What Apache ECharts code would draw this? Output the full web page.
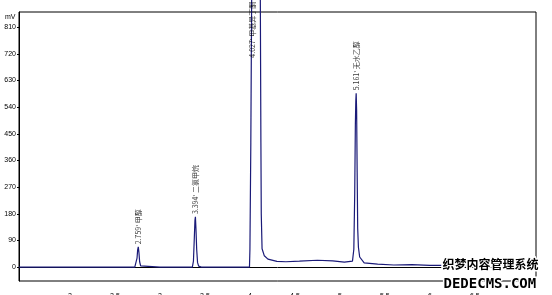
<!DOCTYPE html>
<html><head><meta charset="utf-8">
<script src="https://cdn.jsdelivr.net/npm/echarts@6/dist/echarts.min.js"></script>
<style>html,body{margin:0;padding:0;background:#fff;overflow:hidden}#c{width:552px;height:295px}</style>
</head><body><div id="c"></div>
<script>
// retention time (min)
var times = [1.433, 2.0, 2.5, 2.72, 2.735, 2.745, 2.752, 2.759, 2.766, 2.774, 2.785, 2.80, 3.0, 3.2, 3.36, 3.372, 3.382, 3.389, 3.394, 3.400, 3.408, 3.418, 3.43, 3.46, 3.7, 3.9, 3.995, 4.0, 4.01, 4.02, 4.115, 4.122, 4.126, 4.135, 4.16, 4.2, 4.3, 4.4, 4.55, 4.75, 4.92, 5.05, 5.14, 5.155, 5.165, 5.172, 5.177, 5.181, 5.186, 5.192, 5.198, 5.206, 5.22, 5.27, 5.42, 5.6, 5.8, 6.0, 6.1, 6.4, 6.8, 7.18];
// detector signal (mV)
var signal = [0, 0, 0, 0, 4, 30, 58, 68, 50, 18, 4, 0, 0, 0, 0, 20, 100, 158, 170, 130, 60, 15, 3, 0, 0, 0, 0, 60, 420, 950, 950, 420, 180, 62, 38, 27, 19, 18, 20, 23, 21, 17, 20, 60, 250, 480, 560, 587, 530, 320, 130, 67, 34, 14, 10, 7, 8, 6, 6, 5, 4, 4];
// peak annotations
var peakTimes = [2.759, 3.394, 4.027, 5.181];
var peakAnchor = [70, 172, 700, 590];
var peakNames = ["2.759' 甲醇", "3.394' 二氯甲烷", "4.027' 甲基异丁酮", "5.161' 无水乙醇"];
// axis ticks
var yTicks = [0, 90, 180, 270, 360, 450, 540, 630, 720, 810];
var xTicks = [2, 2.5, 3, 3.5, 4, 4.5, 5, 5.5, 6, 6.5];
var yUnit = 'mV';

var lineData = times.map(function (t, i) { return [t, signal[i]]; });
var labelData = peakTimes.map(function (t, i) { return { value: [t, peakAnchor[i]], name: peakNames[i] }; });

var chart = echarts.init(document.getElementById('c'), null, { renderer: 'canvas' });
chart.setOption({
  animation: false,
  backgroundColor: '#fff',
  grid: { left: 19, top: 12, right: 16, bottom: 14, containLabel: false, outerBoundsMode: 'none', show: true, borderColor: '#000', borderWidth: 1, backgroundColor: 'transparent' },
  xAxis: {
    type: 'value', min: 1.433, max: 7.18,
    axisLine: { show: true, lineStyle: { color: '#000', width: 1 } },
    splitLine: { show: false },
    axisTick: { show: false, customValues: xTicks },
    axisLabel: { customValues: xTicks, margin: 12, fontSize: 7, color: '#000', fontFamily: 'Liberation Sans' }
  },
  yAxis: {
    type: 'value', min: -47, max: 861,
    axisLine: { show: true, lineStyle: { color: '#000', width: 1 } },
    splitLine: { show: false },
    axisTick: { show: true, customValues: yTicks, length: 2, lineStyle: { color: '#000' } },
    axisLabel: { customValues: yTicks, margin: 3, fontSize: 7, color: '#000', fontFamily: 'Liberation Sans' }
  },
  series: [
    {
      type: 'line', data: lineData, showSymbol: false, symbol: 'none', clip: false,
      lineStyle: { color: '#1a1a78', width: 1.2 }, z: 3
    },
    {
      type: 'scatter', data: labelData, symbolSize: 0, z: 4,
      label: {
        show: true, position: 'top', distance: 2, rotate: 90, align: 'left', verticalAlign: 'middle',
        formatter: function (p) { return p.name; },
        fontSize: 7, color: '#000', fontFamily: 'Noto Sans CJK SC'
      }
    }
  ],
  graphic: [
    { type: 'text', left: 5, top: 14, z: 100, style: { text: yUnit, fontSize: 7, fill: '#000', fontFamily: 'Liberation Sans' } },
    { type: 'text', left: 441, top: 257, z: 100, style: { text: '织梦内容管理系统', fontSize: 12, fontWeight: 'bold', fill: '#000', stroke: '#fff', lineWidth: 3, fontFamily: 'Noto Sans CJK SC' } },
    { type: 'text', left: 442, top: 276, z: 100, style: { text: 'DEDECMS.COM', fontSize: 14, fontWeight: 'bold', fill: '#000', stroke: '#fff', lineWidth: 3, fontFamily: 'DejaVu Sans Mono' } }
  ]
});
</script></body></html>
